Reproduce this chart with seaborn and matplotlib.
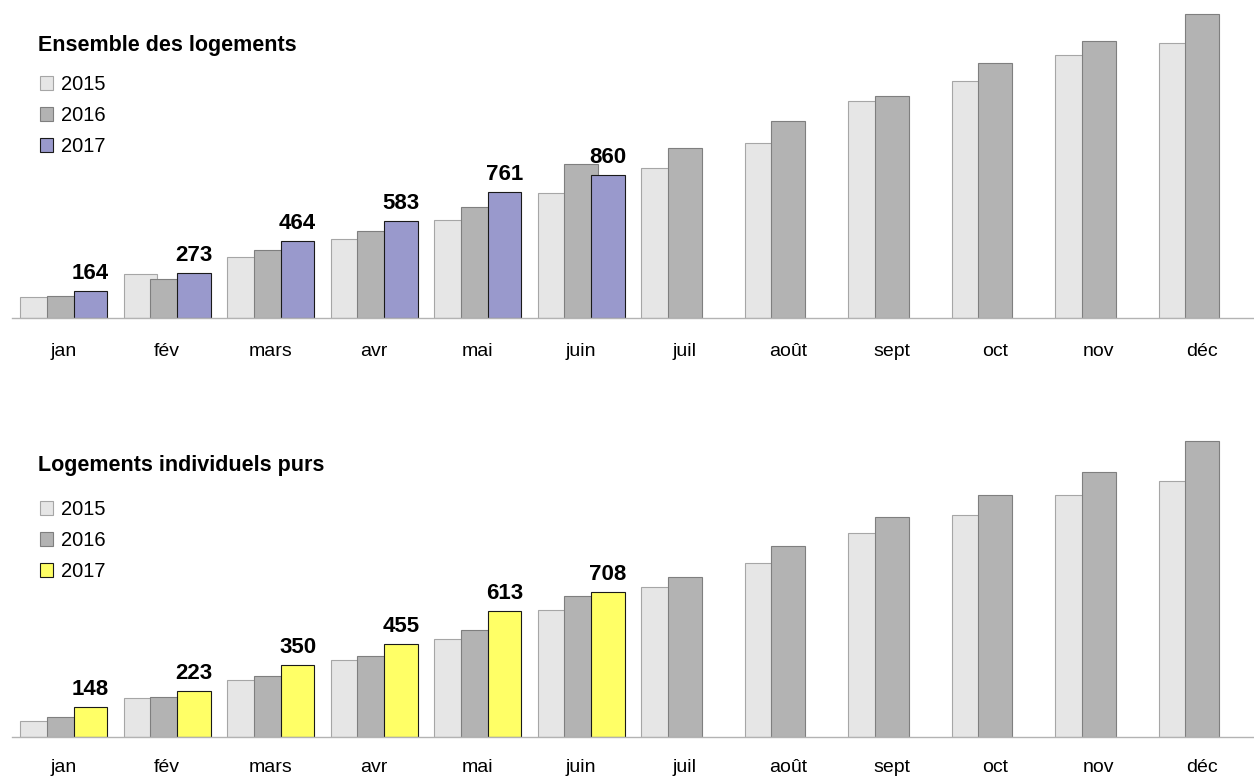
import pandas as pd
import matplotlib.pyplot as plt
import seaborn as sns
from matplotlib.patches import Patch

# --- Données ---
mois = ['jan', 'fév', 'mars', 'avr', 'mai', 'juin',
        'juil', 'août', 'sept', 'oct', 'nov', 'déc']
annees = ['2015', '2016', '2017']

ens_2015 = [124, 262, 370, 478, 590, 752, 901, 1055, 1304, 1424, 1584, 1658]
ens_2016 = [132, 236, 410, 524, 668, 929, 1021, 1186, 1334, 1534, 1666, 1828]
ens_2017 = [164, 273, 464, 583, 761, 860]

ind_2015 = [79, 191, 278, 373, 479, 617, 732, 849, 992, 1081, 1178, 1248]
ind_2016 = [97, 196, 296, 395, 521, 687, 779, 930, 1071, 1177, 1292, 1441]
ind_2017 = [148, 223, 350, 455, 613, 708]

gris_clair = '#e6e6e6'
gris_fonce = '#b3b3b3'
violet = '#9999cc'
jaune = '#ffff66'


def tableau_long(v15, v16, v17):
    lignes = []
    for serie, annee in zip([v15, v16, v17], annees):
        for m, v in zip(mois, serie):
            lignes.append({'mois': m, 'annee': annee, 'valeur': v})
    return pd.DataFrame(lignes)


sns.set_style('white')
plt.rcParams['font.family'] = ['Liberation Sans', 'DejaVu Sans']
plt.rcParams['text.color'] = 'black'
plt.rcParams['xtick.color'] = 'black'

fig = plt.figure(figsize=(12.54, 7.78), dpi=100)
W, H = 1254, 778

# titre, données, couleur 2017, ymax, ligne de base (px), unités par px,
# position du titre (px), décalage de la légende (px), pad des mois
panneaux = [
    ('Ensemble des logements', tableau_long(ens_2015, ens_2016, ens_2017),
     violet, 1900, 318, 6.02, 45, 30, 18),
    ('Logements individuels purs', tableau_long(ind_2015, ind_2016, ind_2017),
     jaune, 1500, 737, 4.87, 466, 34, 15.5),
]

for (titre, df, couleur17, ymax, base_px, unite_px,
     titre_y, dec_leg, pad_lab) in panneaux:
    haut = ymax / unite_px
    ax = fig.add_axes([12 / W, (H - base_px) / H, (W - 12) / W, haut / H])

    palette = {'2015': gris_clair, '2016': gris_fonce, '2017': couleur17}
    bords = {'2015': '#a6a6a6', '2016': '#7f7f7f', '2017': '#1a1a1a'}

    sns.barplot(data=df, x='mois', y='valeur', hue='annee', order=mois,
                hue_order=annees, palette=palette, saturation=1,
                width=0.777, errorbar=None, legend=False, ax=ax)

    # barres qui se chevauchent un peu, comme dans l'original
    for cont, annee in zip(ax.containers, annees):
        for p in cont.patches:
            c = p.get_x() + p.get_width() / 2
            p.set_width(0.326)
            p.set_x(c - 0.163)
            p.set_edgecolor(bords[annee])
            p.set_linewidth(0.8)

    ax.bar_label(ax.containers[2], fmt='%d', padding=5, fontsize=16,
                 fontweight='bold', color='black')

    ax.set_xlim(-0.5, -0.5 + (W - 12) / 104.2)
    ax.set_ylim(0, ymax)
    ax.set_xlabel('')
    ax.set_ylabel('')
    ax.set_yticks([])
    for s in ['top', 'left', 'right']:
        ax.spines[s].set_visible(False)
    ax.spines['bottom'].set_color('#b3b3b3')
    ax.spines['bottom'].set_linewidth(1)

    ax.set_xticks(range(len(mois)))
    ax.set_xticklabels(mois, fontsize=14, color='black')
    ax.set_xticks([i - 0.5 for i in range(len(mois) + 1)], minor=True)
    ax.tick_params(axis='x', which='major', length=0, pad=pad_lab)
    ax.tick_params(axis='x', which='minor', length=7.5, width=1,
                   color='#b3b3b3', direction='out')

    fig.text(38 / W, 1 - titre_y / H, titre, fontsize=15.5,
             fontweight='bold', va='center', ha='left', color='black')

    poignees = [Patch(facecolor=palette[a], edgecolor=bords[a], linewidth=0.8)
                for a in annees]
    leg = ax.legend(poignees, annees, loc='upper left',
                    bbox_to_anchor=(40 / W, 1 - (titre_y + dec_leg) / H),
                    bbox_transform=fig.transFigure, frameon=False,
                    fontsize=14.5, handlelength=0.65, handleheight=0.65,
                    handletextpad=0.38, labelspacing=0.6,
                    borderpad=0, borderaxespad=0)
    for t in leg.get_texts():
        t.set_color('black')

fig.savefig('out.png', dpi=100)
